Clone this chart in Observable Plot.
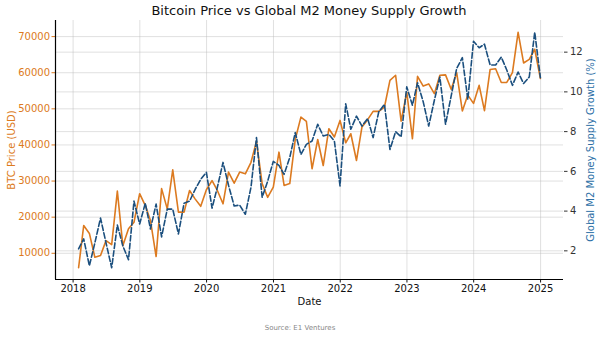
<!DOCTYPE html>
<html>
<head>
<meta charset="utf-8">
<script src="https://cdn.jsdelivr.net/npm/d3@7"></script>
<script src="https://cdn.jsdelivr.net/npm/@observablehq/plot@0.6"></script>
<style>
  html, body { margin: 0; padding: 0; background: #fff; }
  #wrap { position: relative; width: 600px; height: 338px; overflow: hidden; font-family: "DejaVu Sans", sans-serif; background: #fff; }
  #title { position: absolute; left: 55px; width: 508px; top: 3px; text-align: center; font-size: 13px; line-height: 16px; color: #111; white-space: nowrap; z-index: 2; }
  #chart { position: absolute; left: 0; top: 18px; z-index: 1; }
  #source { position: absolute; left: 0; width: 600px; top: 323px; text-align: center; font-size: 7px; line-height: 10px; color: #888; }
</style>
</head>
<body>
<div id="wrap">
  <div id="title">Bitcoin Price vs Global M2 Money Supply Growth</div>
  <div id="chart"></div>
  <div id="source">Source: E1 Ventures</div>
</div>
<script>
// Monthly observations, Jan 2018 .. Dec 2024 (month-end)
const startYear = 2018;
const btcPrice = [
  6000, 17700, 15500, 8900, 9400, 13500, 12400, 27200, 12100, 16800, 18600, 26500,
  23200, 19100, 9100, 27900, 22300, 33100, 21400, 21400, 27400, 25000, 23000, 27600,
  30100, 27400, 23700, 32500, 29400, 32500, 32000, 35200, 41000, 29300, 25500, 28300,
  38000, 28800, 29300, 41500, 47700, 46500, 33400, 41500, 34300, 44500, 42200, 46800,
  40600, 43100, 35700, 45000, 47000, 49300, 49300, 50500, 57900, 59300, 46600, 54600,
  41700, 59000, 56300, 56900, 54200, 59300, 59400, 55400, 60000, 49400, 53800, 51500,
  56500, 49500, 60900, 61100, 57300, 57300, 60000, 71200, 62700, 63700, 66500, 58400
];
const m2Growth = [
  2.1, 2.6, 1.25, 2.4, 3.65, 2.4, 1.15, 3.3, 2.25, 1.55, 4.5, 3.35,
  4.4, 3.1, 4.35, 2.7, 4.1, 4.1, 2.85, 4.4, 4.5, 5.1, 5.6, 5.95,
  4.15, 5.2, 6.45, 5.3, 4.26, 4.3, 3.84, 5.2, 7.7, 4.7, 5.5, 6.5,
  6.3, 5.85, 6.7, 7.95, 6.85, 7.36, 7.53, 8.37, 7.78, 7.86, 7.53, 5.27,
  9.4, 8.12, 8.78, 8.28, 8.66, 7.7, 9.0, 9.37, 7.1, 8.0, 7.74, 10.25,
  9.33, 10.46, 9.5, 8.28, 9.58, 10.75, 8.37, 9.8, 11.18, 11.72, 9.62, 12.55,
  12.22, 12.4, 11.35, 11.35, 11.75, 11.1, 10.33, 11.0, 10.42, 10.75, 13.0, 10.71
];
const yearTickLabels = [2018, 2019, 2020, 2021, 2022, 2023, 2024, 2025];
const btcTicks = [10000, 20000, 30000, 40000, 50000, 60000, 70000];
const m2Ticks = [2, 4, 6, 8, 10, 12];

const orange = "#dc7a20";
const blue = "#1b4f7e";
const blueLabel = "#2c6fa6";

const data = btcPrice.map((b, i) => ({
  date: new Date(Date.UTC(startYear, i + 1, 0)),
  btc: b,
  m2: m2Growth[i]
}));

function padded(extent, frac) {
  const [a, b] = extent; const s = b - a;
  return [a - frac * s, b + frac * s];
}
const [d0, d1] = d3.extent(data, d => +d.date);
const xDomain = padded([d0, d1], 0.05).map(v => new Date(v));
const yDomain = padded(d3.extent(btcPrice), 0.05);
const m2Domain = padded(d3.extent(m2Growth), 0.05);
const toY = d3.scaleLinear(m2Domain, yDomain);

const yearTicks = yearTickLabels.map(y => new Date(Date.UTC(y, 0, 1)));
const gridStyle = { stroke: "#b8b8b8", strokeOpacity: 0.55, strokeWidth: 0.8 };

const chart = Plot.plot({
  width: 600,
  height: 300,
  marginTop: 2,
  marginBottom: 39,
  marginLeft: 55,
  marginRight: 37,
  style: { fontFamily: "DejaVu Sans, sans-serif", fontSize: "10px", background: "transparent", overflow: "visible" },
  x: { type: "utc", domain: xDomain },
  y: { domain: yDomain },
  marks: [
    Plot.gridX(yearTicks, gridStyle),
    Plot.gridY(btcTicks, gridStyle),
    Plot.gridY(m2Ticks.map(v => toY(v)), gridStyle),
    Plot.line(data, { x: "date", y: "btc", stroke: orange, strokeWidth: 1.6 }),
    Plot.line(data, { x: "date", y: d => toY(d.m2), stroke: blue, strokeWidth: 1.6, strokeDasharray: "5.5,2.4" }),
    Plot.axisY(btcTicks, { anchor: "left", label: null, tickFormat: d => String(d), color: orange, tickSize: 3.5, tickPadding: 2, fontSize: 10 }),
    Plot.axisY(m2Ticks.map(v => toY(v)), { anchor: "right", label: null, tickFormat: d => String(Math.round(toY.invert(d))), color: "#333", tickSize: 3.5, tickPadding: 3, fontSize: 10 }),
    Plot.axisX(yearTicks, { anchor: "bottom", label: null, tickFormat: d3.utcFormat("%Y"), color: "#111", tickSize: 3.5, tickPadding: 2, fontSize: 10 }),
    Plot.ruleX([xDomain[0]], { stroke: "#000", strokeWidth: 1.2 }),
    Plot.ruleY([yDomain[0]], { stroke: "#000", strokeWidth: 1.2 }),
    Plot.text(["BTC Price (USD)"], { text: d => d, frameAnchor: "left", dx: -44, rotate: -90, textAnchor: "middle", lineAnchor: "middle", fill: orange, fontSize: 10 }),
    Plot.text(["Global M2 Money Supply Growth (%)"], { text: d => d, frameAnchor: "right", dx: 27, rotate: -90, textAnchor: "middle", lineAnchor: "middle", fill: blueLabel, fontSize: 10 }),
    Plot.text(["Date"], { text: d => d, frameAnchor: "bottom", dy: 22, textAnchor: "middle", lineAnchor: "middle", fill: "#111", fontSize: 10 })
  ]
});
document.getElementById("chart").appendChild(chart);
</script>
</body>
</html>
